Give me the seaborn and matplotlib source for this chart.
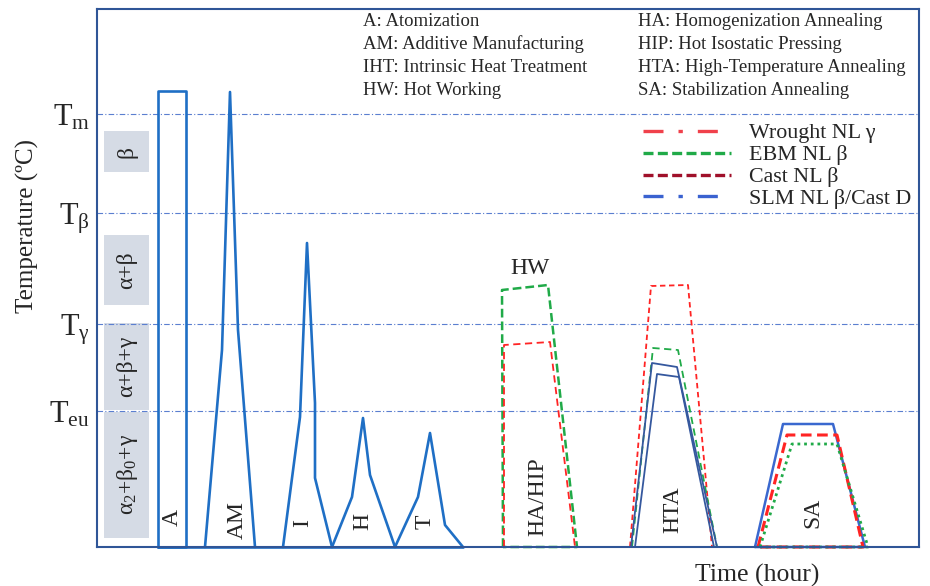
import numpy as np
import pandas as pd
import seaborn as sns
import matplotlib.pyplot as plt
from matplotlib.lines import Line2D
from matplotlib.patches import Rectangle

# Characteristic temperatures (schematic units)
level_temps = [433, 334, 223, 136]
level_labels = [r"$\mathrm{T_{m}}$", r"$\mathrm{T_{β}}$", r"$\mathrm{T_{γ}}$", r"$\mathrm{T_{eu}}$"]

# Phase fields shown as grey boxes on the left
phase_names = ["β", "α+β", "α+β+γ", "α$_2$+β$_0$+γ"]
phase_low = [375, 242, 137, 9]
phase_high = [416, 312, 224, 135]

# Thermal paths (time, temperature)
a_time = [61, 61, 89, 89, 61]
a_temp = [0, 456, 456, 0, 0]
am_time = [108, 125, 133, 141, 158]
am_temp = [0, 197, 455, 217, 0]
i_time = [186, 203, 210, 218, 218, 235]
i_temp = [0, 130, 304, 144, 69, 0]
h_time = [235, 255, 266, 273, 298]
h_temp = [0, 50, 129, 72, 0]
t_time = [298, 321, 333, 348, 366]
t_temp = [0, 50, 114, 22, 0]
base_time = [61, 366]
base_temp = [0, 0]

hw_ebm_time = [406, 405, 451, 480, 406]
hw_ebm_temp = [0, 257, 262, 0, 0]
hw_wrought_time = [407, 407, 453, 478, 407]
hw_wrought_temp = [0, 202, 205, 0, 0]

hta_wrought_time = [533, 554, 591, 615, 533]
hta_wrought_temp = [0, 261, 262, 0, 0]
hta_ebm_time = [535, 556, 581, 620, 535]
hta_ebm_temp = [0, 199, 197, 0, 0]
hta_slm1_time = [534, 555, 580, 620, 534]
hta_slm1_temp = [0, 184, 180, 0, 0]
hta_slm2_time = [538, 560, 582, 617, 538]
hta_slm2_temp = [0, 173, 170, 0, 0]

sa_slm_time = [658, 686, 736, 768, 658]
sa_slm_temp = [0, 123, 123, 0, 0]
sa_wrought_time = [661, 690, 740, 766, 661]
sa_wrought_temp = [0, 112, 112, 0, 0]
sa_ebm_time = [663, 695, 740, 771, 663]
sa_ebm_temp = [0, 103, 103, 0, 0]

legend_labels = ["Wrought NL γ", "EBM NL β", "Cast NL β", "SLM NL β/Cast D"]

left_notes = ["A: Atomization", "AM: Additive Manufacturing",
              "IHT: Intrinsic Heat Treatment", "HW: Hot Working"]
right_notes = ["HA: Homogenization Annealing", "HIP: Hot Isostatic Pressing",
               "HTA: High-Temperature Annealing", "SA: Stabilization Annealing"]

sns.set_theme(style="white")
plt.rcParams["font.family"] = ["Liberation Serif", "DejaVu Serif"]
plt.rcParams["mathtext.fontset"] = "custom"
plt.rcParams["mathtext.rm"] = "Liberation Serif"
plt.rcParams["mathtext.it"] = "Liberation Serif:italic"

blue = "#1F6FC5"
frame_col = "#2F5597"
red = "#FF2424"
green = "#20AA48"
dark_red = "#A0102A"
hta_blue = "#35589E"
sa_blue = "#3A68CF"

fig = plt.figure(figsize=(9.3, 5.86), dpi=100)
ax = fig.add_axes([97 / 930, 39 / 586, 822 / 930, 538 / 586])
ax.set_xlim(0, 822)
ax.set_ylim(0, 538)


def path(t, T, **kw):
    sns.lineplot(x=t, y=T, sort=False, estimator=None, ax=ax, clip_on=False, **kw)


# reference temperature lines
for lv in level_temps:
    ax.axhline(lv, color="#5B7FD0", lw=0.8, linestyle=(0, (5, 2, 1, 2)), zorder=1)

# phase boxes
for name, lo, hi in zip(phase_names, phase_low, phase_high):
    ax.add_patch(Rectangle((7, lo), 45, hi - lo, facecolor="#D5DBE5", edgecolor="none", zorder=0))
    ax.text(30, (lo + hi) / 2, name, rotation=90, ha="center", va="center", fontsize=17)

# solidification / processing spikes
for t, T in [(a_time, a_temp), (am_time, am_temp), (i_time, i_temp),
             (h_time, h_temp), (t_time, t_temp), (base_time, base_temp)]:
    path(t, T, color=blue, lw=1.9)

# hot working / HA / HIP
path(hw_ebm_time, hw_ebm_temp, color=green, lw=1.8, linestyle=(0, (3.5, 1.6)))
path(hw_wrought_time, hw_wrought_temp, color=red, lw=1.3, linestyle=(0, (4, 2.5)))

# high temperature annealing
path(hta_wrought_time, hta_wrought_temp, color=red, lw=1.3, linestyle=(0, (3, 2)))
path(hta_ebm_time, hta_ebm_temp, color=green, lw=1.3, linestyle=(0, (4, 2.5)))
path(hta_slm1_time, hta_slm1_temp, color=hta_blue, lw=1.3)
path(hta_slm2_time, hta_slm2_temp, color=hta_blue, lw=1.3)

# stabilization annealing
path(sa_slm_time, sa_slm_temp, color=sa_blue, lw=1.8)
path(sa_wrought_time, sa_wrought_temp, color=red, lw=2.2, linestyle=(0, (3.5, 1.8)))
path(sa_ebm_time, sa_ebm_temp, color=green, lw=2.0, linestyle=(0, (1, 1.4)))

# process labels
for txt, x, y, rot in [("A", 75, 29, 90), ("AM", 140, 27, 90), ("I", 206, 24, 90),
                       ("H", 266, 25, 90), ("T", 328, 25, 90), ("HA/HIP", 441, 50, 90),
                       ("HTA", 576, 37, 90), ("SA", 716, 34, 90), ("HW", 433, 279, 0)]:
    ax.text(x, y, txt, rotation=rot, ha="center", va="center", fontsize=17)

# abbreviations
for k, (l, r) in enumerate(zip(left_notes, right_notes)):
    yy = 1 - (21 + 23.3 * k) / 586
    fig.text(363 / 930, yy, l, fontsize=13.5, va="center", ha="left")
    fig.text(638 / 930, yy, r, fontsize=13.5, va="center", ha="left")

# legend
handles = [
    Line2D([], [], color="#F0414B", lw=2.4, linestyle=(0, (6, 4.5, 1.3, 4.5))),
    Line2D([], [], color=green, lw=2.4, linestyle=(0, (3, 1.3))),
    Line2D([], [], color=dark_red, lw=2.4, linestyle=(0, (3, 1.3))),
    Line2D([], [], color="#3A62D0", lw=2.4, linestyle=(0, (6, 4.5, 1.3, 4.5))),
]
ax.legend(handles, legend_labels, loc="upper left", bbox_to_anchor=(0.664, 0.788),
          frameon=False, fontsize=15.8, handlelength=4.0, handletextpad=0.85,
          labelspacing=0.07, borderpad=0, borderaxespad=0)

ax.set_yticks(level_temps)
ax.set_yticklabels(level_labels, fontsize=22)
ax.set_xticks([])
ax.tick_params(axis="y", length=0, pad=5)
for sp in ax.spines.values():
    sp.set_color(frame_col)
    sp.set_linewidth(1.5)

ax.set_ylabel("Temperature (ºC)", fontsize=18, va="center")
ax.yaxis.set_label_coords(-0.084, 0.597)
ax.set_xlabel("Time (hour)", fontsize=18.5, va="center")
ax.xaxis.set_label_coords(0.803, -0.052)

plt.savefig("out.png", dpi=100)
